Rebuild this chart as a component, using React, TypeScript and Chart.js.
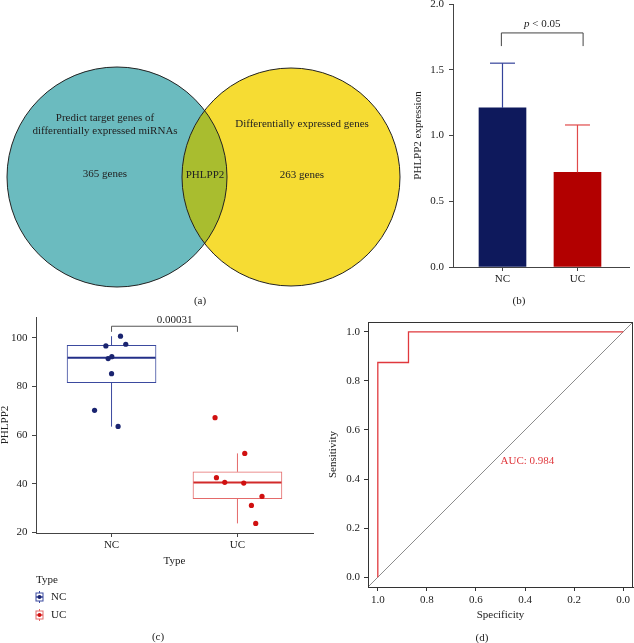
import React, { useEffect, useRef } from "react";
import { Chart, registerables } from "chart.js";
Chart.register(...registerables);

const FONT = "'Liberation Serif', 'Times New Roman', serif";
const FS = 11;
Chart.defaults.font.family = FONT;
Chart.defaults.font.size = FS;
Chart.defaults.color = "#222";

// ---------- (a) Venn diagram ----------
const vennLeftLabel = ["Predict target genes of", "differentially expressed miRNAs"];
const vennRightLabel = ["Differentially expressed genes"];
const vennCounts = [365, 263];
const vennShared = "PHLPP2";

// ---------- (b) bar chart ----------
const barGroups = ["NC", "UC"];
const barMeans = [1.21, 0.72];
const barSD = [0.34, 0.36];
const barTicks = [0, 0.5, 1.0, 1.5, 2.0];
const barPText = ["p", " < 0.05"];

// ---------- (c) boxplot ----------
const boxGroups = ["NC", "UC"];
const boxQ1 = [81.6, 33.9];
const boxMedian = [91.8, 40.5];
const boxQ3 = [96.9, 44.9];
const boxLow = [63.5, 23.7];
const boxHigh = [100.7, 52.5];
const ncValues = [96.7, 100.7, 97.4, 92.3, 91.5, 85.3, 70.2, 63.6];
const ncJitter = [0.955, 1.071, 1.113, 1.002, 0.973, 1.0, 0.865, 1.052];
const ucValues = [67.2, 52.5, 42.5, 40.6, 40.3, 34.8, 31.1, 23.7];
const ucJitter = [1.822, 2.058, 1.833, 1.899, 2.05, 2.195, 2.111, 2.145];
const boxTicks = [20, 40, 60, 80, 100];
const boxPValue = "0.00031";

// ---------- (d) ROC ----------
const rocSpecificity = [1.0, 1.0, 0.875, 0.875, 0.0];
const rocSensitivity = [0.0, 0.875, 0.875, 1.0, 1.0];
const rocDiagX = [1.04, -0.04];
const rocDiagY = [-0.04, 1.04];
const rocTicks = [0, 0.2, 0.4, 0.6, 0.8, 1.0];
const rocAUC = 0.984;

// colours
const TEAL = "#6bbbbf";
const YELLOW = "#f6dc33";
const OLIVE = "#a9bd2f";
const NC_BAR = "#0e195c";
const UC_BAR = "#b20000";
const NC_ERR = "#34439a";
const UC_ERR = "#e04a4a";
const NC_BOX = "#3b4a9f";
const NC_MED = "#232f88";
const NC_DOT = "#1a2470";
const UC_BOX = "#e46a6a";
const UC_MED = "#d22a2a";
const UC_DOT = "#d01010";
const AXIS = "#444";
const ROC_RED = "#e0383d";

function txt(ctx: any, s: string, x: number, y: number, o: any = {}) {
  ctx.save();
  ctx.font = `${o.style || ""} ${o.size || FS}px ${FONT}`;
  ctx.fillStyle = o.color || "#222";
  ctx.textAlign = o.align || "center";
  ctx.textBaseline = o.baseline || "middle";
  ctx.fillText(s, x, y);
  ctx.restore();
}
function seg(ctx: any, x0: number, y0: number, x1: number, y1: number) {
  ctx.beginPath();
  ctx.moveTo(x0, y0);
  ctx.lineTo(x1, y1);
  ctx.stroke();
}

function fixAxis(size: number) {
  return (scale: any) => {
    if (scale.isHorizontal()) scale.height = size;
    else scale.width = size;
    scale.paddingTop = 0;
    scale.paddingBottom = 0;
    scale.paddingLeft = 0;
    scale.paddingRight = 0;
  };
}
const setTicks = (vals: number[]) => (scale: any) => {
  scale.ticks = vals.map((v) => ({ value: v }));
};
const baseOpts = {
  responsive: false,
  animation: false as const,
  devicePixelRatio: 1,
  events: [] as any[],
};
const noPlugins = { legend: { display: false }, tooltip: { enabled: false } };
const titleFont = { size: FS, lineHeight: 1 };

// ---------- configs ----------
function vennConfig(): any {
  const plugin = {
    id: "venn",
    afterDraw(chart: any) {
      const { ctx } = chart;
      const x = chart.scales.x, y = chart.scales.y;
      const px = (v: number) => x.getPixelForValue(v);
      const py = (v: number) => y.getPixelForValue(v);
      const L = { cx: px(117), cy: py(177), r: px(110) - px(0) };
      const R = { cx: px(291), cy: py(177), r: px(109) - px(0) };
      const circle = (c: any) => {
        ctx.beginPath();
        ctx.arc(c.cx, c.cy, c.r, 0, Math.PI * 2);
      };
      ctx.save();
      circle(L); ctx.fillStyle = TEAL; ctx.fill();
      circle(R); ctx.fillStyle = YELLOW; ctx.fill();
      ctx.save(); circle(L); ctx.clip(); circle(R); ctx.fillStyle = OLIVE; ctx.fill(); ctx.restore();
      ctx.strokeStyle = "#222"; ctx.lineWidth = 1;
      circle(L); ctx.stroke();
      circle(R); ctx.stroke();
      ctx.restore();
      txt(ctx, vennLeftLabel[0], px(105), py(118));
      txt(ctx, vennLeftLabel[1], px(105), py(131));
      txt(ctx, `${vennCounts[0]} genes`, px(105), py(174));
      txt(ctx, vennShared, px(205), py(175));
      txt(ctx, vennRightLabel[0], px(302), py(124));
      txt(ctx, `${vennCounts[1]} genes`, px(302), py(175));
      txt(ctx, "(a)", px(200), py(301));
    },
  };
  return {
    type: "scatter",
    data: { datasets: [] },
    options: {
      ...baseOpts,
      layout: { padding: 0 },
      plugins: noPlugins,
      scales: {
        x: { type: "linear", min: 0, max: 634, display: false },
        y: { type: "linear", min: 0, max: 643, reverse: true, display: false },
      },
    },
    plugins: [plugin],
  };
}

function barConfig(): any {
  const plugin = {
    id: "errbars",
    afterDatasetsDraw(chart: any) {
      const { ctx } = chart;
      const xs = chart.scales.x, ys = chart.scales.y;
      const meta = chart.getDatasetMeta(0);
      ctx.save();
      ctx.lineWidth = 1.2;
      meta.data.forEach((bar: any, i: number) => {
        const top = ys.getPixelForValue(barMeans[i] + barSD[i]);
        ctx.strokeStyle = i === 0 ? NC_ERR : UC_ERR;
        seg(ctx, bar.x, bar.y, bar.x, top);
        seg(ctx, bar.x - 12.5, top, bar.x + 12.5, top);
      });
      // bracket
      const x0 = xs.getPixelForValue(-0.015), x1 = xs.getPixelForValue(1.075);
      const yb = ys.getPixelForValue(1.78), yd = ys.getPixelForValue(1.68);
      ctx.strokeStyle = AXIS; ctx.lineWidth = 1;
      ctx.beginPath();
      ctx.moveTo(x0, yd); ctx.lineTo(x0, yb); ctx.lineTo(x1, yb); ctx.lineTo(x1, yd);
      ctx.stroke();
      ctx.font = `italic ${FS}px ${FONT}`;
      const w1 = ctx.measureText(barPText[0]).width;
      ctx.font = `${FS}px ${FONT}`;
      const w2 = ctx.measureText(barPText[1]).width;
      const cx = (x0 + x1) / 2 - (w1 + w2) / 2;
      txt(ctx, barPText[0], cx, yb - 9, { style: "italic", align: "left" });
      txt(ctx, barPText[1], cx + w1, yb - 9, { align: "left" });
      ctx.restore();
      txt(ctx, "(b)", 519, 301);
    },
  };
  return {
    type: "bar",
    data: {
      datasets: [
        {
          data: barMeans.map((v, i) => ({ x: i, y: v })),
          backgroundColor: [NC_BAR, UC_BAR],
          borderWidth: 0,
          barThickness: 47,
        },
      ],
    },
    options: {
      ...baseOpts,
      layout: { padding: { left: 403, right: 5, top: 4, bottom: 643 - 267 - 30 } },
      plugins: noPlugins,
      scales: {
        x: {
          type: "linear", min: -0.66, max: 1.687, offset: false,
          afterBuildTicks: setTicks([0, 1]),
          ticks: { callback: (v: number) => barGroups[v], padding: 2, maxRotation: 0, autoSkip: false },
          grid: { drawOnChartArea: false, tickLength: 4, color: AXIS, offset: false },
          border: { color: AXIS, width: 1 },
          afterFit: fixAxis(30),
        },
        y: {
          type: "linear", min: 0, max: 2,
          afterBuildTicks: setTicks(barTicks),
          ticks: { callback: (v: number) => v.toFixed(1), padding: 5 },
          grid: { drawOnChartArea: false, tickLength: 4, color: AXIS },
          border: { color: AXIS, width: 1 },
          title: { display: true, text: "PHLPP2 expression", padding: { top: 9.5, bottom: 0 }, font: titleFont },
          afterFit: fixAxis(50),
        },
      },
    },
    plugins: [plugin],
  };
}

function boxConfig(): any {
  const plugin = {
    id: "boxparts",
    afterDatasetDraw(chart: any, args: any) {
      if (args.index !== 0) return;
      const { ctx } = chart;
      const ys = chart.scales.y;
      const meta = chart.getDatasetMeta(0);
      ctx.save();
      meta.data.forEach((bar: any, i: number) => {
        const col = i === 0 ? NC_BOX : UC_BOX;
        ctx.strokeStyle = col; ctx.lineWidth = 1;
        seg(ctx, bar.x, ys.getPixelForValue(boxQ3[i]), bar.x, ys.getPixelForValue(boxHigh[i]));
        seg(ctx, bar.x, ys.getPixelForValue(boxQ1[i]), bar.x, ys.getPixelForValue(boxLow[i]));
        ctx.strokeStyle = i === 0 ? NC_MED : UC_MED; ctx.lineWidth = 2;
        const m = ys.getPixelForValue(boxMedian[i]);
        seg(ctx, bar.x - bar.width / 2 + 0.5, m, bar.x + bar.width / 2 - 0.5, m);
      });
      ctx.restore();
    },
    afterDraw(chart: any) {
      const { ctx } = chart;
      const xs = chart.scales.x, ys = chart.scales.y;
      const x0 = xs.getPixelForValue(1), x1 = xs.getPixelForValue(2);
      const yb = ys.getPixelForValue(104.8), yd = ys.getPixelForValue(102.5);
      ctx.save();
      ctx.strokeStyle = "#555"; ctx.lineWidth = 1;
      ctx.beginPath();
      ctx.moveTo(x0, yd); ctx.lineTo(x0, yb); ctx.lineTo(x1, yb); ctx.lineTo(x1, yd);
      ctx.stroke();
      txt(ctx, boxPValue, (x0 + x1) / 2, yb - 6);
      // legend
      txt(ctx, "Type", 36, 580, { align: "left" });
      const glyph = (cy: number, box: string, dot: string, label: string) => {
        const cx = 39.5;
        ctx.strokeStyle = box; ctx.lineWidth = 1;
        seg(ctx, cx, cy - 6, cx, cy + 6);
        ctx.fillStyle = "#fff";
        ctx.fillRect(cx - 3.5, cy - 4, 7, 8);
        ctx.strokeRect(cx - 3.5, cy - 4, 7, 8);
        ctx.strokeStyle = box; ctx.lineWidth = 1.5;
        seg(ctx, cx - 3.5, cy, cx + 3.5, cy);
        ctx.fillStyle = dot;
        ctx.beginPath(); ctx.arc(cx, cy, 2, 0, Math.PI * 2); ctx.fill();
        txt(ctx, label, 51, cy, { align: "left" });
      };
      glyph(597, NC_BOX, NC_DOT, boxGroups[0]);
      glyph(615, UC_BOX, UC_DOT, boxGroups[1]);
      ctx.restore();
      txt(ctx, "(c)", 158, 637);
    },
  };
  return {
    type: "bar",
    data: {
      datasets: [
        {
          type: "bar",
          order: 3,
          data: boxGroups.map((_, i) => ({ x: i + 1, y: [boxQ1[i], boxQ3[i]] })),
          backgroundColor: "#ffffff",
          borderColor: [NC_BOX, UC_BOX],
          borderWidth: 1,
          borderSkipped: false,
          barThickness: 89,
        },
        {
          type: "scatter",
          order: 1,
          data: ncValues.map((v, i) => ({ x: ncJitter[i], y: v })),
          backgroundColor: NC_DOT,
          borderWidth: 0,
          pointRadius: 2.6,
        },
        {
          type: "scatter",
          order: 1,
          data: ucValues.map((v, i) => ({ x: ucJitter[i], y: v })),
          backgroundColor: UC_DOT,
          borderWidth: 0,
          pointRadius: 2.6,
        },
      ],
    },
    options: {
      ...baseOpts,
      layout: { padding: { left: 0, right: 634 - 313, top: 317, bottom: 643 - 533 - 40 } },
      plugins: noPlugins,
      scales: {
        x: {
          type: "linear", min: 0.4, max: 2.6, offset: false,
          afterBuildTicks: setTicks([1, 2]),
          ticks: { callback: (v: number) => boxGroups[v - 1], padding: 2, maxRotation: 0, autoSkip: false },
          grid: { drawOnChartArea: false, tickLength: 4, color: AXIS, offset: false },
          border: { color: AXIS, width: 1 },
          title: { display: true, text: "Type", padding: { top: 0, bottom: 6 }, font: titleFont },
          afterFit: fixAxis(40),
        },
        y: {
          type: "linear", min: 19.75, max: 108.6, beginAtZero: false,
          afterBuildTicks: setTicks(boxTicks),
          ticks: { callback: (v: number) => String(v), padding: 4.5 },
          grid: { drawOnChartArea: false, tickLength: 4, color: AXIS },
          border: { color: AXIS, width: 1 },
          title: { display: true, text: "PHLPP2", padding: { top: 0, bottom: 0 }, font: titleFont },
          afterFit: fixAxis(36),
        },
      },
    },
    plugins: [plugin],
  };
}

function rocConfig(): any {
  const plugin = {
    id: "rocextra",
    afterDraw(chart: any) {
      const { ctx, chartArea: a } = chart;
      const xs = chart.scales.x, ys = chart.scales.y;
      ctx.save();
      ctx.strokeStyle = "#333"; ctx.lineWidth = 1;
      ctx.strokeRect(Math.round(a.left) + 0.5, Math.round(a.top) + 0.5, Math.round(a.right - a.left) - 1, Math.round(a.bottom - a.top));
      ctx.restore();
      txt(ctx, `AUC: ${rocAUC.toFixed(3)}`, xs.getPixelForValue(0.5), ys.getPixelForValue(0.5) + 1, { align: "left", baseline: "top", color: ROC_RED });
      txt(ctx, "(d)", 482, 638);
    },
  };
  return {
    type: "scatter",
    data: {
      datasets: [
        {
          data: rocSpecificity.map((s, i) => ({ x: s, y: rocSensitivity[i] })),
          showLine: true, borderColor: ROC_RED, borderWidth: 1.3, pointRadius: 0, fill: false,
        },
        {
          data: rocDiagX.map((s, i) => ({ x: s, y: rocDiagY[i] })),
          showLine: true, borderColor: "#8c8c8c", borderWidth: 1, pointRadius: 0, fill: false,
        },
      ],
    },
    options: {
      ...baseOpts,
      layout: { padding: { left: 320, right: 1, top: 322, bottom: 16 } },
      plugins: noPlugins,
      scales: {
        x: {
          type: "linear", reverse: true, min: -0.04, max: 1.04,
          afterBuildTicks: setTicks(rocTicks),
          ticks: { callback: (v: number) => v.toFixed(1), padding: 3, maxRotation: 0, autoSkip: false },
          grid: { drawOnChartArea: false, tickLength: 4, color: "#333" },
          border: { color: "#333", width: 1 },
          title: { display: true, text: "Specificity", padding: { top: 0, bottom: 6 }, font: titleFont },
          afterFit: fixAxis(40),
        },
        y: {
          type: "linear", min: -0.04, max: 1.04,
          afterBuildTicks: setTicks(rocTicks),
          ticks: { callback: (v: number) => v.toFixed(1), padding: 4 },
          grid: { drawOnChartArea: false, tickLength: 4, color: "#333" },
          border: { color: "#333", width: 1 },
          title: { display: true, text: "Sensitivity", padding: { top: 7.5, bottom: 0 }, font: titleFont },
          afterFit: fixAxis(48),
        },
      },
    },
    plugins: [plugin],
  };
}

function Panel({ make }: { make: () => any }) {
  const ref = useRef<HTMLCanvasElement>(null);
  useEffect(() => {
    const chart = new Chart(ref.current as HTMLCanvasElement, make());
    return () => chart.destroy();
  }, []);
  return (
    <canvas
      ref={ref}
      width={634}
      height={643}
      style={{ position: "absolute", left: 0, top: 0, width: 634, height: 643 }}
    />
  );
}

export default function App() {
  return (
    <div style={{ position: "fixed", left: 0, top: 0, width: 634, height: 643, background: "#fff", overflow: "hidden" }}>
      <Panel make={vennConfig} />
      <Panel make={barConfig} />
      <Panel make={boxConfig} />
      <Panel make={rocConfig} />
    </div>
  );
}
